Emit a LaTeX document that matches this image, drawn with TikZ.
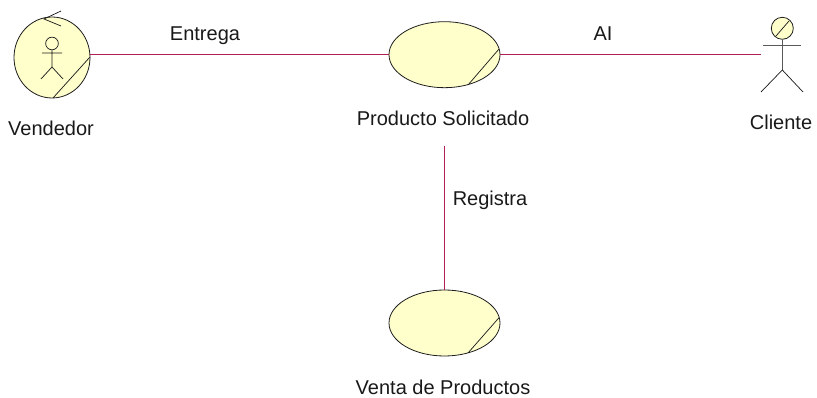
\documentclass[tikz,border=0pt]{standalone}
\usepackage{fontspec}
\setmainfont{Liberation Sans}
\usetikzlibrary{shapes.geometric}
\definecolor{fillY}{RGB}{255,255,204}
\definecolor{assoc}{RGB}{176,32,88}
\definecolor{ink}{RGB}{30,30,30}
\tikzset{
  uc/.style={ellipse,draw=ink,fill=fillY,line width=0.6pt,inner sep=0pt,minimum width=83.25pt,minimum height=49.5pt},
  bnd/.style={ellipse,draw=ink,fill=fillY,line width=0.6pt,inner sep=0pt,minimum width=57pt,minimum height=60.75pt},
  lbl/.style={font=\fontsize{15pt}{17pt}\selectfont,inner sep=0pt,anchor=base,text=black!90},
  stroke/.style={draw=ink,line width=0.55pt},
  link/.style={draw=assoc,line width=0.65pt}
}
\begin{document}
\begin{tikzpicture}[x=0.75pt,y=-0.75pt]
\useasboundingbox (0,0) rectangle (817,398);
% nodes
\node[bnd] (vend) at (52,57.5) {};
\node[uc] (prod) at (444.5,54.7) {};
\node[uc] (venta) at (444.5,323) {};
\node[circle,draw=ink,fill=fillY,line width=0.6pt,inner sep=0pt,minimum size=16.5pt] (clhead) at (782.3,28.3) {};
\coordinate (vendE) at (90,54.7);
\coordinate (clHand) at (761,54.7);
\coordinate (prodBelow) at (444.5,146);
% connectors
\draw[link] (vendE) -- (prod.west);
\draw[link] (prod.east) -- (clHand);
\draw[link] (prodBelow) -- (venta.north);
% slashes
\draw[stroke] (90,57) -- (53,98);
\draw[stroke] (499,49) -- (468,85);
\draw[stroke] (499,317.7) -- (468,353);
\draw[stroke] (776,36) -- (789,21);
% vendedor control arrow
\draw[stroke] (61,11) -- (44,19) -- (61,26);
% vendedor inner figure
\node[circle,draw=ink,line width=0.55pt,inner sep=0pt,minimum size=9.5pt] (vhead) at (52,43.5) {};
\draw[stroke] (vhead.south) -- (52,67) (42,53) -- (62,53) (41,79) -- (52,67) -- (63,79);
% cliente figure
\draw[draw=black!65,line width=0.7pt] (clhead.south) -- (782.3,70) (763,45.5) -- (801,45.5);
\draw[stroke] (761,92) -- (782.3,70) -- (803,92);
% labels
\node[lbl] (t1) at (51,136) {Vendedor};
\node[lbl] (t2) at (443,126) {Producto Solicitado};
\node[lbl] (t3) at (781,130) {Cliente};
\node[lbl] (t4) at (443,395) {Venta de Productos};
\node[lbl] (t5) at (205,41) {Entrega};
\node[lbl] (t6) at (603,41) {AI};
\node[lbl] (t7) at (490,206) {Registra};
\end{tikzpicture}
\end{document}
